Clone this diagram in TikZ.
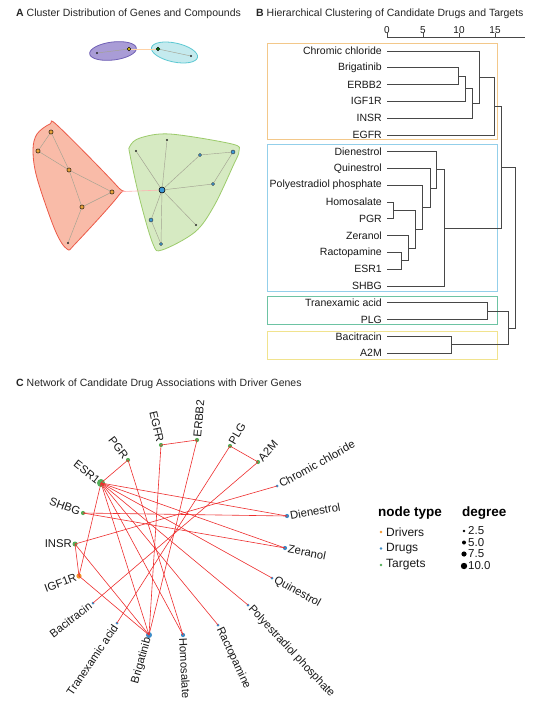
\documentclass[tikz,border=0pt]{standalone}
\usepackage{fontspec}
\setmainfont{Liberation Sans}
\usetikzlibrary{shapes.geometric}
\definecolor{purpF}{HTML}{A99CD6}
\definecolor{purpB}{HTML}{6F5FB5}
\definecolor{cyanF}{HTML}{C4EAEE}
\definecolor{cyanB}{HTML}{5CC8D2}
\definecolor{redF}{HTML}{F9BBA8}
\definecolor{redB}{HTML}{EC5A48}
\definecolor{grnF}{HTML}{D6EAC2}
\definecolor{grnB}{HTML}{9CCB6B}
\definecolor{edgeA}{HTML}{A3A392}
\definecolor{nodeOr}{HTML}{E8A23A}
\definecolor{nodeBl}{HTML}{3D9AD8}
\definecolor{boxO}{HTML}{F3C88A}
\definecolor{boxB}{HTML}{93CFEA}
\definecolor{boxG}{HTML}{6DC3A3}
\definecolor{boxY}{HTML}{F1E38E}
\definecolor{tgt}{HTML}{55AE5A}
\definecolor{drv}{HTML}{F5962A}
\definecolor{drg}{HTML}{3C8DC8}
\definecolor{netE}{HTML}{EE2E2E}
\newcommand\elb[5]{\draw[dline] (#1,#2) -| (#5,#4) -- (#3,#4);}
\begin{document}
\begin{tikzpicture}[x=1pt,y=-1pt,
  ttl/.style={anchor=west, inner sep=0pt, font=\fontsize{10.5}{12}\selectfont, text=black!85},
  aedge/.style={draw=edgeA, line width=0.45pt},
  adot/.style={circle, fill=black!85, inner sep=0pt, minimum size=2.2pt},
  aorg/.style={circle, fill=nodeOr, draw=black, line width=0.4pt, inner sep=0pt, minimum size=4.2pt},
  ablu/.style={circle, fill=nodeBl, draw=black!80, line width=0.4pt, inner sep=0pt, minimum size=4pt},
  dline/.style={draw=black!72, line width=0.7pt},
  leaf/.style={anchor=east, inner sep=0pt, font=\fontsize{10.5}{12}\selectfont, text=black!90},
  tick/.style={anchor=south, inner sep=0pt, font=\fontsize{10}{12}\selectfont, text=black!90},
  cbox/.style={line width=0.8pt},
  nn/.style={circle, inner sep=0pt, minimum size=#1},
  netlab/.style={inner sep=3pt, font=\fontsize{11.3}{13}\selectfont, text=black!90},
  nedge/.style={draw=netE, line width=0.6pt},
  legt/.style={anchor=west, inner sep=0pt, font=\bfseries\fontsize{13.5}{15}\selectfont},
  legi/.style={anchor=west, inner sep=0pt, font=\fontsize{12}{14}\selectfont, text=black!90},
  legd/.style={anchor=west, inner sep=0pt, font=\fontsize{11.5}{13}\selectfont, text=black!90}
]
\useasboundingbox (0,0) rectangle (550,711);
\fill[white] (0,0) rectangle (550,711);

% ---------------- Panel A ----------------
\node[ttl] (tA) at (16,14) {\textbf{A} Cluster Distribution of Genes and Compounds};

\node[ellipse, draw=purpB, fill=purpF, line width=0.8pt, minimum width=47pt, minimum height=18pt, rotate=7] (hullP) at (113,51) {};
\node[ellipse, draw=cyanB, fill=cyanF, line width=0.8pt, minimum width=47pt, minimum height=19pt, rotate=-12] (hullC) at (174.5,52.5) {};

\filldraw[draw=redB, fill=redF, line width=0.8pt] plot[smooth cycle, tension=0.55] coordinates {(50,124) (37,134) (33,150) (37,178) (55,230) (67,249) (76,243) (119,195) (117,186) (58,126)};
\filldraw[draw=grnB, fill=grnF, line width=0.8pt] plot[smooth cycle, tension=0.55] coordinates {(130,146) (140,138) (170,134) (232,144) (239,151) (233,166) (214,206) (195,232) (162,250) (153,244) (140,200) (130,155)};

% nodes in A
\node[adot] (p1) at (97,53) {};
\node[circle, fill=yellow!80!orange, draw=black, line width=0.4pt, inner sep=0pt, minimum size=3.5pt] (p2) at (129,49) {};
\node[circle, fill=green!50!black, draw=black, line width=0.4pt, inner sep=0pt, minimum size=3.5pt] (c1) at (158,49) {};
\node[adot] (c2) at (191,56) {};

\node[aorg] (r1) at (51,132) {};
\node[aorg] (r2) at (38,151) {};
\node[aorg] (r3) at (69,170) {};
\node[aorg] (r4) at (112,192) {};
\node[aorg] (r5) at (82,207) {};
\node[adot] (r6) at (68,243) {};

\node[circle, fill=nodeBl, draw=black, line width=0.6pt, inner sep=0pt, minimum size=6pt] (hub) at (162,190) {};
\node[adot] (g1) at (136,151) {};
\node[adot] (g2) at (167,140) {};
\node[ablu, minimum size=3.2pt] (g3) at (200,155) {};
\node[ablu] (g4) at (233,152) {};
\node[ablu, minimum size=3.2pt] (g5) at (213,184) {};
\node[ablu] (g6) at (151,220) {};
\node[ablu, minimum size=3.4pt] (g7) at (161,244) {};
\node[adot] (g8) at (196,225) {};

\draw[draw=orange!35, line width=0.6pt] (p2) -- (c1);
\draw[draw=red!30, line width=0.6pt] (r4) -- (hub);
\draw[aedge] (p1) -- (p2);
\draw[aedge] (c1) -- (c2);
\draw[aedge] (r1) -- (r2);
\draw[aedge] (r1) -- (r3);
\draw[aedge] (r2) -- (r3);
\draw[aedge] (r3) -- (r4);
\draw[aedge] (r3) -- (r5);
\draw[aedge] (r4) -- (r5);
\draw[aedge] (r5) -- (r6);
\draw[aedge] (hub) -- (g1);
\draw[aedge] (hub) -- (g2);
\draw[aedge] (hub) -- (g3);
\draw[aedge] (g3) -- (g4);
\draw[aedge] (g4) -- (g5);
\draw[aedge] (hub) -- (g5);
\draw[aedge] (hub) -- (g6);
\draw[aedge] (hub) -- (g7);
\draw[aedge] (g6) -- (g7);
\draw[aedge] (hub) -- (g8);

% ---------------- Panel B ----------------
\node[ttl] (tB) at (256,14) {\textbf{B} Hierarchical Clustering of Candidate Drugs and Targets};

\draw[draw=boxO, cbox] (267,43) rectangle (497,139);
\draw[draw=boxB, cbox] (267,144) rectangle (497,291);
\draw[draw=boxG, cbox] (267,296) rectangle (497,324);
\draw[draw=boxY, cbox] (267,331) rectangle (497,359);

% axis
\draw[dline] (387,37) -- (525,37);
\foreach \v/\xx in {0/387,5/423,10/459,15/495}{
  \draw[dline] (\xx,37) -- (\xx,33);
  \node[tick] at (\xx,33.5) {\v};
}

% leaves
\foreach \lab [count=\i from 0] in {Chromic chloride, Brigatinib, ERBB2, IGF1R, INSR, EGFR, Dienestrol, Quinestrol, Polyestradiol phosphate, Homosalate, PGR, Zeranol, Ractopamine, ESR1, SHBG, Tranexamic acid, PLG, Bacitracin, A2M}{
  \node[leaf] (leaf\i) at (382,{51+16.78*\i}) {\lab};
}

\elb{387}{67.8}{387}{84.6}{458}
\elb{458}{76.2}{387}{101.3}{465}
\elb{465}{88.8}{387}{118.1}{472}
\elb{387}{51.0}{472}{103.4}{479}
\elb{479}{77.2}{387}{134.9}{494}
\elb{387}{202.0}{387}{218.8}{393}
\elb{387}{252.4}{387}{269.1}{401}
\elb{387}{235.6}{401}{260.8}{408}
\elb{393}{210.4}{408}{248.2}{415}
\elb{387}{185.2}{415}{229.3}{422}
\elb{387}{168.5}{422}{207.2}{430}
\elb{387}{151.7}{430}{187.9}{436}
\elb{436}{169.8}{387}{285.9}{444}
\elb{494}{106.0}{444}{227.9}{501}
\elb{387}{302.7}{387}{319.5}{487}
\elb{387}{336.3}{387}{353.0}{451}
\elb{487}{311.1}{451}{344.7}{508}
\elb{501}{167.0}{508}{327.9}{515}

% ---------------- Panel C ----------------
\node[ttl] (tC) at (16,384) {\textbf{C} Network of Candidate Drug Associations with Driver Genes};

% nodes
\node[nn=4.2pt, fill=drg] (cDien) at (287,516) {};
\node[nn=3pt, fill=drg] (cChro) at (277,486) {};
\node[nn=4.2pt, fill=tgt] (cA2M) at (258,462) {};
\node[nn=4.2pt, fill=tgt] (cPLG) at (230,446) {};
\node[nn=4.2pt, fill=tgt] (cERBB) at (197,440) {};
\node[nn=4.2pt, fill=tgt] (cEGFR) at (161,445) {};
\node[nn=4.2pt, fill=tgt] (cPGR) at (128,460) {};
\node[nn=8pt, fill=tgt] (cESR) at (101,483) {};
\node[nn=4.2pt, fill=tgt] (cSHBG) at (83,513) {};
\node[nn=5pt, fill=tgt] (cINSR) at (75,544) {};
\node[nn=5.2pt, fill=drv] (cIGF) at (79,576) {};
\node[nn=3pt, fill=drg] (cBac) at (93,603) {};
\node[nn=3pt, fill=drg] (cTran) at (117,623) {};
\node[nn=6pt, fill=drg] (cBrig) at (149,635) {};
\node[nn=4.2pt, fill=drg] (cHomo) at (183,635) {};
\node[nn=3pt, fill=drg] (cRact) at (218,625) {};
\node[nn=3pt, fill=drg] (cPoly) at (248,605) {};
\node[nn=3pt, fill=drg] (cQuin) at (272,578) {};
\node[nn=4.2pt, fill=drg] (cZer) at (285,548) {};

% edges
\foreach \a/\b in {cEGFR/cERBB, cPLG/cA2M, cPGR/cESR, cESR/cIGF, cINSR/cIGF, cESR/cDien, cESR/cZer, cESR/cQuin, cESR/cPoly, cESR/cRact, cESR/cHomo, cESR/cBrig, cSHBG/cDien, cSHBG/cZer, cINSR/cChro, cINSR/cBrig, cIGF/cBrig, cPGR/cHomo, cEGFR/cBrig, cERBB/cBrig, cPLG/cTran, cA2M/cBac}{
  \draw[nedge] (\a.center) -- (\b.center);
}

% labels
\node[netlab, anchor=west, rotate=10] at (cDien) {Dienestrol};
\node[netlab, anchor=west, rotate=29] at (cChro) {Chromic chloride};
\node[netlab, anchor=west, rotate=48] at (cA2M) {A2M};
\node[netlab, anchor=west, rotate=60] at (cPLG) {PLG};
\node[netlab, anchor=west, rotate=85] at (cERBB) {ERBB2};
\node[netlab, anchor=east, rotate=-77] at (cEGFR) {EGFR};
\node[netlab, anchor=east, rotate=-52] at (cPGR) {PGR};
\node[netlab, anchor=east, rotate=-38] at (cESR) {ESR1};
\node[netlab, anchor=east, rotate=-20] at (cSHBG) {SHBG};
\node[netlab, anchor=east, rotate=0] at (cINSR) {INSR};
\node[netlab, anchor=east, rotate=20] at (cIGF) {IGF1R};
\node[netlab, anchor=east, rotate=37] at (cBac) {Bacitracin};
\node[netlab, anchor=east, rotate=56] at (cTran) {Tranexamic acid};
\node[netlab, anchor=east, rotate=74] at (cBrig) {Brigatinib};
\node[netlab, anchor=west, rotate=-87] at (cHomo) {Homosalate};
\node[netlab, anchor=west, rotate=-65] at (cRact) {Ractopamine};
\node[netlab, anchor=west, rotate=-47] at (cPoly) {Polyestradiol phosphate};
\node[netlab, anchor=west, rotate=-29] at (cQuin) {Quinestrol};
\node[netlab, anchor=west, rotate=-11] at (cZer) {Zeranol};

% legend
\node[legt] (lgT) at (378,513) {node type};
\node[nn=2.8pt, fill=drv] (lg1) at (381,532) {};
\node[legi] at (386,532) {Drivers};
\node[nn=2.8pt, fill=drg] (lg2) at (381,548.5) {};
\node[legi] at (386,548.5) {Drugs};
\node[nn=2.8pt, fill=tgt] (lg3) at (381,565) {};
\node[legi] at (386,565) {Targets};

\node[legt] (lgD) at (462,513) {degree};
\node[nn=2.8pt, fill=black] (d1) at (464,531) {};
\node[legd] at (468,531) {2.5};
\node[nn=4pt, fill=black] (d2) at (464,542.5) {};
\node[legd] at (468,542.5) {5.0};
\node[nn=5.2pt, fill=black] (d3) at (464,554) {};
\node[legd] at (468,554) {7.5};
\node[nn=6.4pt, fill=black] (d4) at (464,566) {};
\node[legd] at (468,566) {10.0};
\end{tikzpicture}
\end{document}
